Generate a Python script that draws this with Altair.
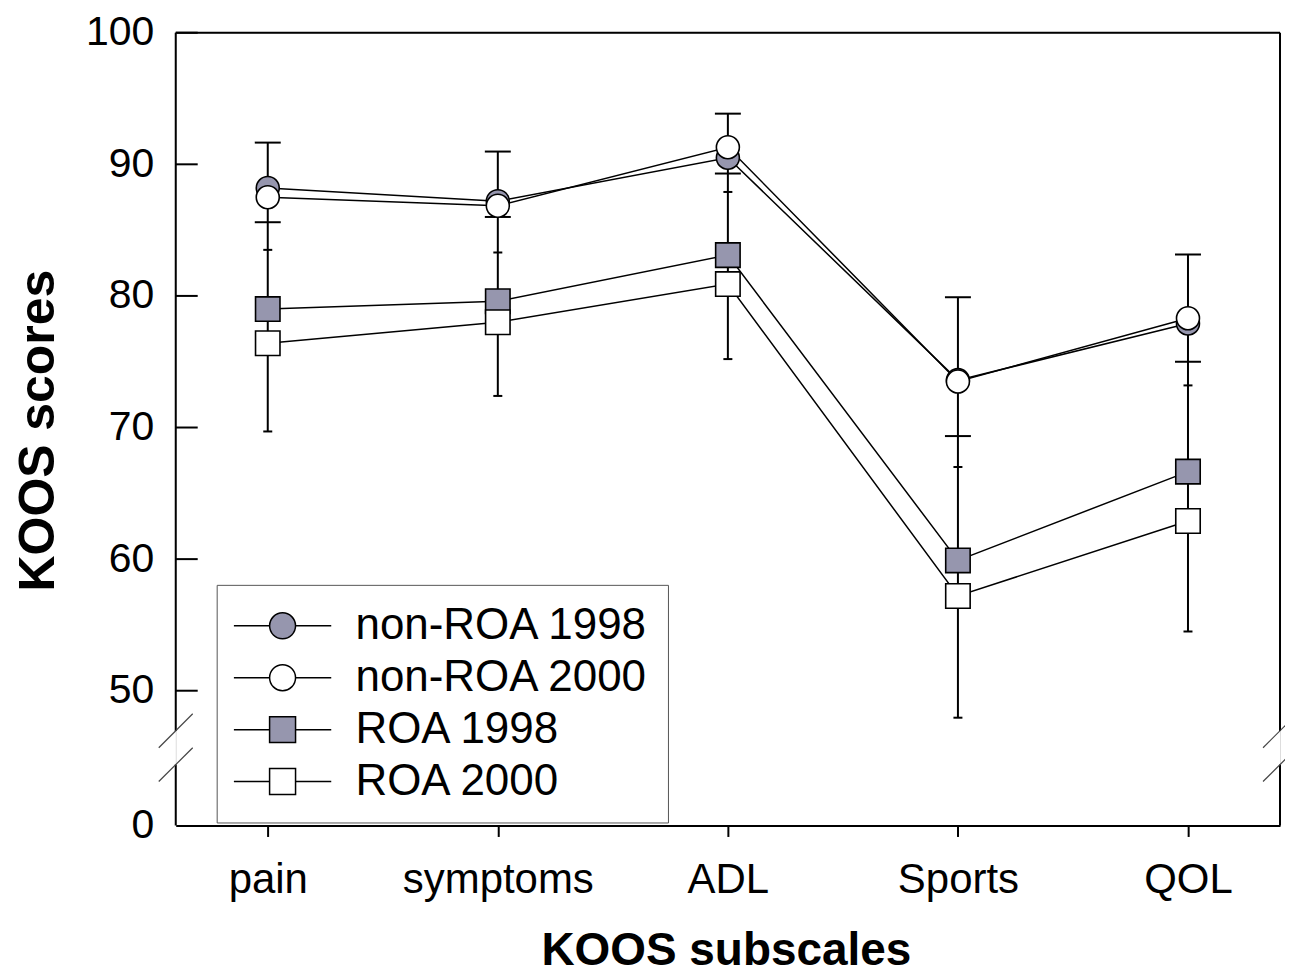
import altair as alt
import pandas as pd

# ---------------- data ----------------
categories = ["pain", "symptoms", "ADL", "Sports", "QOL"]
series_names = ["non-ROA 1998", "non-ROA 2000", "ROA 1998", "ROA 2000"]

nonroa_1998 = [88.2, 87.2, 90.5, 73.6, 77.9]
nonroa_2000 = [87.5, 86.85, 91.3, 73.5, 78.3]
roa_1998 = [79.0, 79.6, 83.1, 59.9, 66.65]
roa_2000 = [76.4, 78.0, 80.9, 57.2, 62.9]

# error bar ends
nonroa_err_top = [91.65, 90.97, 93.85, 79.9, 83.15]
nonroa_err_low = [85.6, 86.0, 89.3, 69.35, 75.0]
roa_err_top = [83.5, 83.3, 87.9, 67.0, 73.2]
roa_err_low = [69.7, 72.4, 75.2, 47.95, 54.5]

y_tick_values = [39.76, 50, 60, 70, 80, 90, 100]
y_inner_ticks = [50, 60, 70, 80, 90, 100]
axis_break = [46.93, 44.39]          # gap in the y axis line
slash_low = [45.67, 43.1]
slash_high = [48.25, 45.67]

# ---------------- styling ----------------
W, H = 1106, 794
LAV = "#9696AE"
FONT = "Liberation Sans"

rows = []
for s, vals in zip(series_names, [nonroa_1998, nonroa_2000, roa_1998, roa_2000]):
    for i, (c, v) in enumerate(zip(categories, vals)):
        rows.append({"series": s, "category": c, "idx": i, "value": v,
                     "group": "nonROA" if s.startswith("non") else "ROA"})
pts = pd.DataFrame(rows)

err = pd.DataFrame({
    "category": categories,
    "hi": nonroa_err_top,
    "nlo": nonroa_err_low,
    "rhi": roa_err_top,
    "lo": roa_err_low,
})

x_axis = alt.Axis(
    title="KOOS subscales", labelAngle=0, labelFontSize=42, labelFont=FONT,
    labelColor="black", labelPadding=23, labelLimit=0, tickSize=11, tickWidth=2,
    tickColor="black", domainColor="black", domainWidth=2, grid=False,
    titleFont=FONT, titleFontSize=46, titleFontWeight="bold", titleColor="black",
    titleBaseline="alphabetic", titleY=139, titleX=551,
)
y_axis = alt.Axis(
    title="KOOS scores", values=y_tick_values,
    labelExpr="datum.value < 45 ? '0' : format(datum.value, 'd')",
    domain=False, ticks=False, tickSize=0, grid=False, labelPadding=22,
    labelFontSize=41, labelFont=FONT, labelColor="black",
    titleFont=FONT, titleFontSize=50, titleFontWeight="bold", titleColor="black",
    titleAngle=-90, titleBaseline="alphabetic", titleAlign="center",
    titleX=-122, titleY=398,
)
x_scale = alt.Scale(type="point", padding=0.4, domain=categories)
y_scale = alt.Scale(domain=[39.76, 100], nice=False, zero=False)


def X():
    return alt.X("category:N", sort=categories, scale=x_scale, axis=x_axis)


def Y(field):
    return alt.Y(f"{field}:Q", scale=y_scale, axis=y_axis)


circle_path = "M1,0A1,1,0,1,1,-1,0A1,1,0,1,1,1,0Z M-3.75,0L-1,0 M1,0L3.75,0"
square_path = "M-1,-1L1,-1L1,1L-1,1Z M-3.75,0L-1,0 M1,0L3.75,0"

legend_def = alt.Legend(
    title=None, orient="none", legendX=41, legendY=553, padding=19,
    strokeColor="#555555", fillColor="white", cornerRadius=0,
    symbolSize=676, symbolStrokeColor="black", symbolStrokeWidth=1.5,
    symbolOpacity=1, symbolOffset=25, labelOffset=51,
    labelFont=FONT, labelFontSize=44, labelColor="black", labelLimit=0,
    rowPadding=8,
)
fill_scale = alt.Scale(domain=series_names, range=[LAV, "white", LAV, "white"])
stroke_scale = alt.Scale(domain=series_names, range=["black"] * 4)
shape_scale = alt.Scale(domain=series_names,
                        range=[circle_path, circle_path, square_path, square_path])

# ---------------- layers ----------------
err_rule = alt.Chart(err).mark_rule(color="black", strokeWidth=2).encode(
    x=X(), y=Y("hi"), y2="lo:Q")

wide_caps = alt.Chart(err).transform_fold(["hi", "nlo"], as_=["k", "v"]).mark_tick(
    orient="horizontal", size=26, thickness=2, color="black", opacity=1).encode(
    x=X(), y=Y("v"))

small_caps = alt.Chart(err).transform_fold(["rhi", "lo"], as_=["k", "v"]).mark_tick(
    orient="horizontal", size=9, thickness=2, color="black", opacity=1).encode(
    x=X(), y=Y("v"))

lines = alt.Chart(pts).mark_line(color="black", strokeWidth=1.5).encode(
    x=X(), y=Y("value"), detail="series:N", order="idx:Q")

circles = alt.Chart(pts).transform_filter(alt.datum.group == "nonROA").mark_point(
    shape="circle", filled=True, size=530, strokeWidth=1.6, opacity=1).encode(
    x=X(), y=Y("value"),
    fill=alt.Fill("series:N", scale=fill_scale, legend=legend_def),
    stroke=alt.Stroke("series:N", scale=stroke_scale, legend=legend_def))

squares = alt.Chart(pts).transform_filter(alt.datum.group == "ROA").mark_point(
    shape="square", filled=True, size=600, strokeWidth=1.6, opacity=1).encode(
    x=X(), y=Y("value"),
    fill=alt.Fill("series:N", scale=fill_scale, legend=legend_def),
    stroke=alt.Stroke("series:N", scale=stroke_scale, legend=legend_def))

legend_layer = alt.Chart(pd.DataFrame({"series": series_names})).transform_filter(
    "false").mark_point(filled=True, size=676, strokeWidth=1.5, opacity=1).encode(
    shape=alt.Shape("series:N", scale=shape_scale, legend=legend_def),
    fill=alt.Fill("series:N", scale=fill_scale, legend=legend_def),
    stroke=alt.Stroke("series:N", scale=stroke_scale, legend=legend_def))

# frame
top_df = pd.DataFrame({"y": [100]})
frame_top = alt.Chart(top_df).mark_rule(color="black", strokeWidth=2).encode(
    x=alt.value(0), x2=alt.value(W), y=Y("y"))

seg_df = pd.DataFrame({"y": [100, axis_break[1]], "y2": [axis_break[0], 39.76]})
frame_left = alt.Chart(seg_df).mark_rule(color="black", strokeWidth=2).encode(
    x=alt.value(0), y=Y("y"), y2="y2:Q")
frame_right = alt.Chart(seg_df).mark_rule(color="black", strokeWidth=2).encode(
    x=alt.value(W), y=Y("y"), y2="y2:Q")

slash_df = pd.DataFrame({"a": slash_low, "b": slash_high})
slash_left = alt.Chart(slash_df).mark_rule(color="#444444", strokeWidth=1.2).encode(
    x=alt.value(-17), x2=alt.value(17), y=Y("a"), y2="b:Q")
slash_right = alt.Chart(slash_df).mark_rule(color="#444444", strokeWidth=1.2).encode(
    x=alt.value(W - 17), x2=alt.value(W + 17), y=Y("a"), y2="b:Q")

ytick_df = pd.DataFrame({"y": y_inner_ticks})
y_ticks = alt.Chart(ytick_df).mark_rule(color="black", strokeWidth=2).encode(
    x=alt.value(0), x2=alt.value(22), y=Y("y"))

chart = alt.layer(
    frame_top, frame_left, frame_right, slash_left, slash_right, y_ticks,
    err_rule, wide_caps, small_caps, lines, circles, squares, legend_layer,
).properties(
    width=W, height=H,
    autosize=alt.AutoSizeParams(type="none"),
    padding={"left": 168, "top": 24, "right": 5, "bottom": 150},
).configure_view(stroke=None).configure(font=FONT, background="white")

chart.save("out.html", embed_options={"renderer": "svg", "actions": False})
